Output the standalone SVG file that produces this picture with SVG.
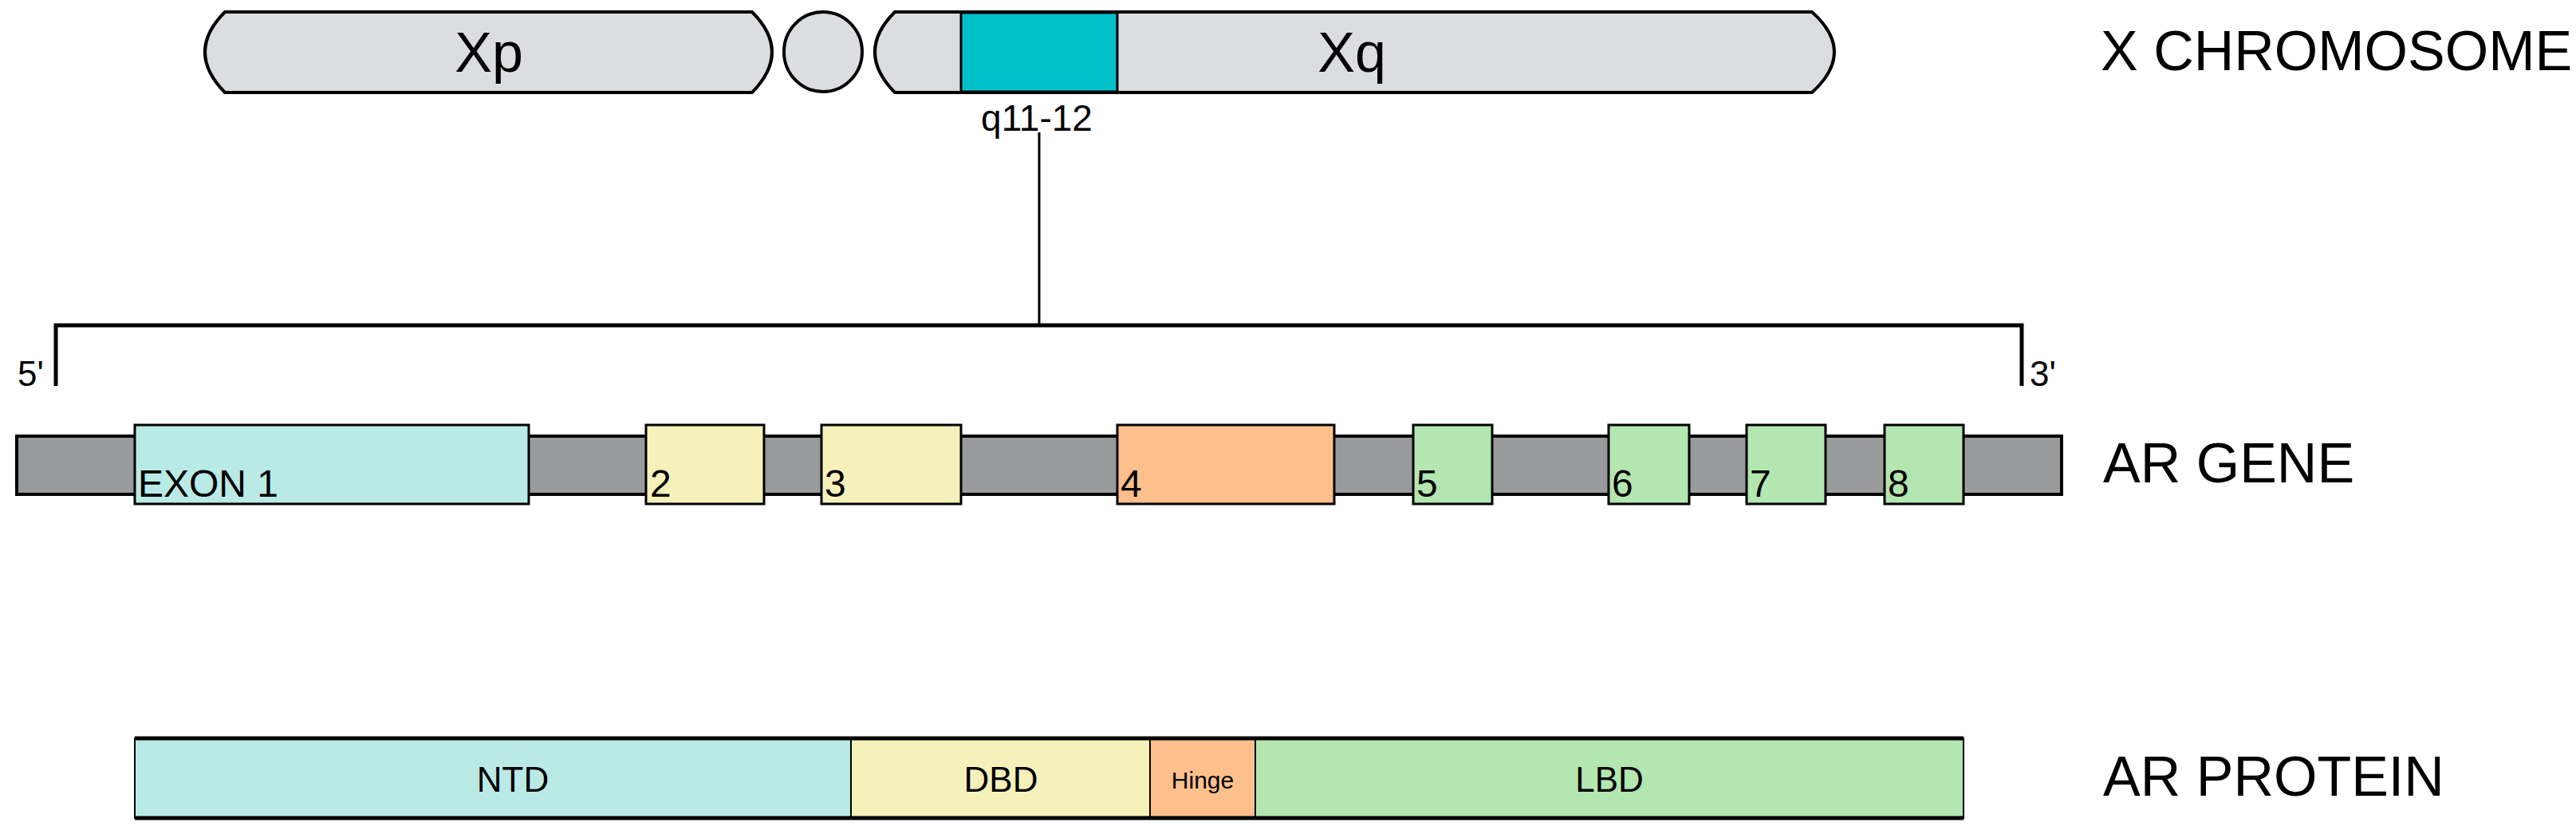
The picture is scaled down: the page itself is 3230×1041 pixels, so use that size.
<svg xmlns="http://www.w3.org/2000/svg" width="3230" height="1041" viewBox="0 0 3230 1041">
<style>
text{font-family:"Liberation Sans",Arial,sans-serif;fill:#000}
.chr{fill:#dcdde1;stroke:#000;stroke-width:4}
.ex{stroke:#000;stroke-width:3}
.ln{stroke:#000;fill:none}
</style>
<rect width="3230" height="1041" fill="#fff"/>
<g id="chromosome">
<path class="chr" d="M282,15 H943 Q993,65 943,116 H282 Q232,65 282,15 Z"/>
<ellipse class="chr" cx="1032" cy="65" rx="49" ry="50"/>
<path class="chr" d="M1122,15 H2272 Q2328,65 2272,116 H1122 Q1072,65 1122,15 Z"/>
<rect x="1205" y="16" width="196" height="99" fill="#00c0cc" stroke="#000" stroke-width="3"/>
<text x="613" y="90" font-size="70" text-anchor="middle">Xp</text>
<text x="1695" y="90" font-size="70" text-anchor="middle">Xq</text>
<text x="1300" y="164" font-size="46" text-anchor="middle">q11-12</text>
<text x="2634" y="88" font-size="70">X CHROMOSOME</text>
</g>
<g id="connectors">
<line class="ln" x1="1303" y1="166" x2="1303" y2="408" stroke-width="3"/>
<polyline class="ln" points="70,484 70,408 2535,408 2535,484" stroke-width="5"/>
<text x="22" y="484" font-size="44">5'</text>
<text x="2545" y="484" font-size="44">3'</text>
</g>
<g id="gene">
<rect x="21" y="547" width="2564" height="73" fill="#999a9c" stroke="#000" stroke-width="4"/>
<rect class="ex" x="169" y="533" width="494" height="99" fill="#b9eae6"/>
<rect class="ex" x="810" y="533" width="148" height="99" fill="#f6f1bb"/>
<rect class="ex" x="1030" y="533" width="175" height="99" fill="#f6f1bb"/>
<rect class="ex" x="1401" y="533" width="272" height="99" fill="#fdc08c"/>
<rect class="ex" x="1772" y="533" width="99" height="99" fill="#b3e6b0"/>
<rect class="ex" x="2017" y="533" width="101" height="99" fill="#b3e6b0"/>
<rect class="ex" x="2190" y="533" width="99" height="99" fill="#b3e6b0"/>
<rect class="ex" x="2363" y="533" width="99" height="99" fill="#b3e6b0"/>
<g font-size="48">
<text x="173" y="623">EXON 1</text>
<text x="815" y="623">2</text>
<text x="1034" y="623">3</text>
<text x="1405" y="623">4</text>
<text x="1776" y="623">5</text>
<text x="2021" y="623">6</text>
<text x="2194" y="623">7</text>
<text x="2367" y="623">8</text>
</g>
<text x="2637" y="605" font-size="70">AR GENE</text>
</g>
<g id="protein">
<rect x="169" y="926" width="898" height="100" fill="#b9eae6" stroke="#000" stroke-width="2"/>
<rect x="1067" y="926" width="375" height="100" fill="#f6f1bb" stroke="#000" stroke-width="2"/>
<rect x="1442" y="926" width="132" height="100" fill="#fdc08c" stroke="#000" stroke-width="2"/>
<rect x="1574" y="926" width="888" height="100" fill="#b3e6b0" stroke="#000" stroke-width="2"/>
<line class="ln" x1="169" y1="926" x2="2462" y2="926" stroke-width="5"/>
<line class="ln" x1="169" y1="1026" x2="2462" y2="1026" stroke-width="5"/>
<text x="643" y="993" font-size="44" text-anchor="middle">NTD</text>
<text x="1255" y="993" font-size="44" text-anchor="middle">DBD</text>
<text x="1508" y="989" font-size="30" text-anchor="middle">Hinge</text>
<text x="2018" y="993" font-size="44" text-anchor="middle">LBD</text>
<text x="2637" y="998" font-size="70">AR PROTEIN</text>
</g>
</svg>
